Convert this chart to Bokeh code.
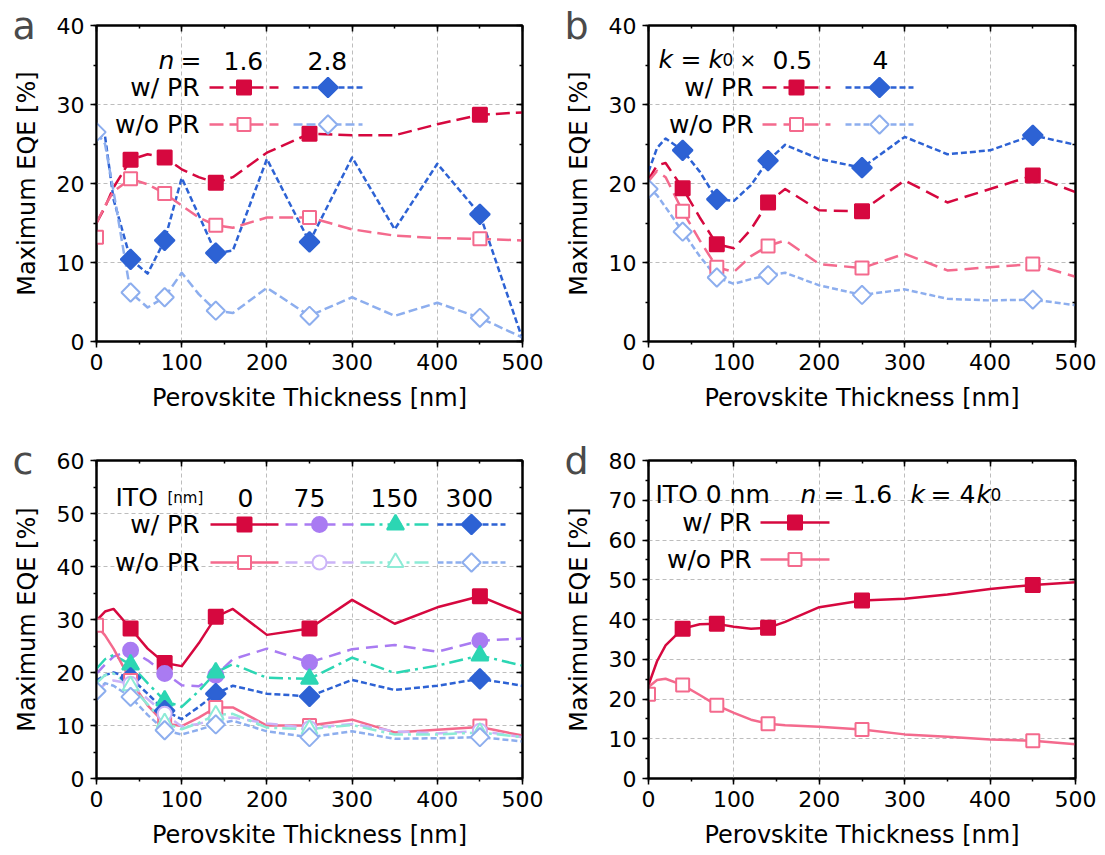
import numpy as np
from bokeh.plotting import figure
from bokeh.models import Range1d, LinearAxis, SingleIntervalTicker, Label, Title
from bokeh.layouts import column, row
from bokeh.embed import file_html
from bokeh.resources import INLINE

# ---------------- data ----------------
THICKNESS = [0, 10, 20, 40, 60, 80, 100, 120, 140, 160, 200, 250, 300, 350, 400, 450, 500]
MARK_X_W = [40, 80, 140, 250, 450]
MARK_X_WO = [0, 40, 80, 140, 250, 450]

# panel a : n = 1.6 / 2.8
A_N16_W = [15.0, 17.0, 19.5, 23.0, 23.7, 23.3, 21.8, 20.8, 20.1, 20.8, 23.9, 26.3, 26.1, 26.1, 27.5, 28.7, 29.0]
A_N16_W_MK = [23.0, 23.3, 20.1, 26.3, 28.7]
A_N16_WO = [15.0, 17.2, 19.0, 20.6, 19.9, 18.75, 17.2, 15.7, 14.7, 14.4, 15.7, 15.7, 14.2, 13.4, 13.1, 13.0, 12.8]
A_N16_WO_MK = [13.2, 20.6, 18.75, 14.7, 15.7, 13.0]
A_N28_W = [26.0, 26.0, 18.0, 10.4, 8.6, 12.8, 20.7, 16.0, 11.2, 11.5, 23.1, 12.6, 23.3, 14.2, 22.5, 16.1, 0.3]
A_N28_W_MK = [10.4, 12.8, 11.2, 12.6, 16.1]
A_N28_WO = [26.5, 25.0, 19.0, 6.2, 4.3, 5.6, 8.7, 6.0, 3.9, 3.6, 6.8, 3.25, 5.6, 3.25, 4.9, 3.0, 0.5]
A_N28_WO_MK = [26.5, 6.2, 5.6, 3.9, 3.25, 3.0]

# panel b : k = k0 x 0.5 / 4
B_K05_W = [20.5, 22.3, 22.6, 19.4, 15.7, 12.3, 11.8, 14.2, 17.6, 19.3, 16.6, 16.5, 20.4, 17.6, 19.3, 21.0, 18.9]
B_K05_W_MK = [19.4, 12.3, 17.6, 16.5, 21.0]
B_K4_W = [21.5, 24.5, 25.7, 24.2, 21.5, 18.0, 17.8, 19.8, 22.9, 24.9, 23.1, 22.0, 25.9, 23.7, 24.2, 26.1, 24.9]
B_K4_W_MK = [24.2, 18.0, 22.9, 22.0, 26.1]
B_K05_WO = [20.3, 21.6, 20.8, 16.5, 12.8, 9.4, 8.8, 10.8, 12.1, 12.8, 9.8, 9.3, 11.1, 9.0, 9.4, 9.8, 8.2]
B_K05_WO_MK = [16.5, 9.4, 12.1, 9.3, 9.8]
B_K4_WO = [19.6, 18.5, 17.0, 13.9, 10.8, 8.1, 7.3, 7.9, 8.4, 8.7, 7.1, 5.9, 6.6, 5.4, 5.2, 5.3, 4.6]
B_K4_WO_MK = [19.3, 13.9, 8.1, 8.4, 5.9, 5.3]

# panel c : ITO 0 / 75 / 150 / 300 nm
C_0_W = [29.8, 31.5, 32.0, 28.3, 24.5, 21.8, 21.2, 25.5, 30.5, 32.0, 27.1, 28.3, 33.7, 29.2, 32.3, 34.4, 31.1]
C_0_W_MK = [28.3, 21.8, 30.5, 28.3, 34.4]
C_75_W = [19.8, 21.5, 23.0, 24.2, 22.3, 19.9, 17.6, 17.4, 19.5, 22.5, 24.5, 21.9, 24.4, 25.2, 23.9, 26.0, 26.4]
C_75_W_MK = [24.2, 19.8, 19.5, 21.9, 26.0]
C_150_W = [20.7, 22.5, 23.3, 21.5, 18.0, 14.7, 13.5, 16.5, 20.0, 21.6, 19.0, 18.8, 22.8, 19.9, 21.3, 23.2, 21.3]
C_150_W_MK = [21.5, 14.7, 20.0, 18.8, 23.2]
C_300_W = [18.5, 19.5, 20.0, 19.0, 16.0, 12.8, 11.2, 13.5, 16.0, 17.5, 16.0, 15.5, 18.6, 16.7, 17.5, 18.8, 17.5]
C_300_W_MK = [19.0, 12.8, 16.0, 15.5, 18.8]
C_0_WO = [28.9, 27.0, 24.5, 18.5, 13.8, 10.4, 9.9, 11.5, 13.4, 13.4, 10.0, 10.0, 11.1, 8.7, 9.2, 9.7, 8.1]
C_0_WO_MK = [28.9, 18.5, 10.4, 13.4, 10.0, 9.9]
C_75_WO = [16.5, 17.8, 18.5, 17.9, 15.0, 12.2, 9.8, 10.3, 11.3, 11.5, 10.4, 9.5, 10.3, 8.9, 8.5, 9.0, 7.8]
C_75_WO_MK = [17.9, 12.2, 11.3, 9.5, 9.0]
C_150_WO = [18.0, 19.5, 19.8, 17.5, 14.0, 10.5, 9.3, 10.5, 12.0, 12.2, 9.6, 9.3, 10.1, 8.3, 8.3, 8.7, 7.8]
C_150_WO_MK = [17.5, 10.5, 12.0, 9.3, 8.7]
C_300_WO = [16.5, 18.0, 17.5, 15.4, 12.0, 9.1, 8.3, 9.2, 10.2, 10.9, 8.9, 7.8, 8.9, 7.5, 7.6, 7.8, 7.0]
C_300_WO_MK = [16.5, 15.4, 9.1, 10.2, 7.8, 7.8]

# panel d : ITO 0 nm, n = 1.6, k = 4 k0
D_W = [23.5, 29.5, 33.5, 37.7, 38.8, 38.9, 38.2, 37.7, 37.9, 39.4, 43.1, 44.8, 45.2, 46.3, 47.7, 48.7, 49.4]
D_W_MK = [37.7, 38.9, 37.9, 44.8, 48.7]
D_WO = [23.0, 24.8, 25.1, 23.5, 21.0, 18.4, 16.5, 14.8, 13.8, 13.4, 13.0, 12.3, 11.1, 10.5, 9.8, 9.5, 8.6]
D_WO_MK = [21.2, 23.5, 18.4, 13.8, 12.3, 9.5]

X_TICK_STEP = 100
Y_TICK_STEP = 10

# ---------------- style ----------------
FONT = "DejaVu Sans"
RED = "#D6083F"
PINK = "#F46A8D"
BLUE = "#2D62D4"
LBLUE = "#8DAEEE"
PURPLE = "#A97BF2"
LPURPLE = "#CBB4F8"
TEAL = "#2CD6B3"
LTEAL = "#8DEBD6"

GEOM = {"a": (96, 25, 426, 316, 40), "b": (648, 25, 427, 316, 40),
        "c": (96, 460, 426, 318, 60), "d": (648, 460, 427, 318, 80)}


def px2d(key, px, py):
    l, t, w, h, ymax = GEOM[key]
    return (px - l) / w * 500.0, (t + h - py) / h * ymax


def make_fig(key, w, h, lb, rb, tb, bb, letter):
    ymax = GEOM[key][4]
    p = figure(width=w, height=h, x_range=Range1d(0, 500), y_range=Range1d(0, ymax),
               output_backend="svg", toolbar_location=None,
               min_border_left=lb, min_border_right=rb, min_border_top=tb, min_border_bottom=bb)
    p.background_fill_color = "white"
    p.border_fill_color = "white"
    p.outline_line_color = "black"
    p.outline_line_width = 2
    top_ax = LinearAxis()
    right_ax = LinearAxis()
    p.add_layout(top_ax, "above")
    p.add_layout(right_ax, "right")
    bottom_ax = p.below[0]
    left_ax = p.left[0]
    # panel letter as a title, pulled left of the frame
    p.add_layout(Title(text=letter, align="left", offset=-84, standoff=-46,
                       vertical_align="middle", text_font=FONT, text_font_size="38px",
                       text_font_style="normal", text_color="#4a4a4a"), "above")
    for ax in (bottom_ax, top_ax):
        ax.ticker = SingleIntervalTicker(interval=X_TICK_STEP, num_minor_ticks=2)
    for ax in (left_ax, right_ax):
        ax.ticker = SingleIntervalTicker(interval=Y_TICK_STEP, num_minor_ticks=2)
    for ax in (bottom_ax, top_ax, left_ax, right_ax):
        ax.axis_line_color = "black"
        ax.axis_line_width = 2
        ax.major_tick_line_color = "black"
        ax.minor_tick_line_color = "black"
        ax.major_tick_line_width = 1.5
        ax.minor_tick_line_width = 1.5
        ax.major_label_text_font = FONT
        ax.major_label_text_font_size = "22px"
        ax.major_label_text_color = "black"
        ax.axis_label_text_font = FONT
        ax.axis_label_text_font_size = "24px"
        ax.axis_label_text_font_style = "normal"
        ax.axis_label_text_color = "black"
    for ax in (bottom_ax, left_ax):
        ax.major_tick_out = 6
        ax.major_tick_in = 0
        ax.minor_tick_out = 3
        ax.minor_tick_in = 0
        ax.major_label_standoff = 6
    for ax in (top_ax, right_ax):
        ax.major_tick_out = 0
        ax.major_tick_in = 6
        ax.minor_tick_out = 0
        ax.minor_tick_in = 3
        ax.major_label_text_font_size = "1px"
        ax.major_label_text_color = None
        ax.major_label_standoff = 0
    bottom_ax.axis_label = "Perovskite Thickness [nm]"
    bottom_ax.axis_label_standoff = 11
    left_ax.axis_label = "Maximum EQE [%]"
    left_ax.axis_label_standoff = 13
    for g in (p.xgrid, p.ygrid):
        g.grid_line_color = "#bdbdbd"
        g.grid_line_dash = "4 3"
        g.grid_line_width = 1
    return p


def draw_lines(p, series):
    for (ys, color, dash, mx, my, marker, filled, size, angle) in series:
        p.line(THICKNESS, ys, line_color=color, line_width=2.5, line_dash=dash, line_join="round")


def draw_marks(p, series):
    for (ys, color, dash, mx, my, marker, filled, size, angle) in series:
        p.scatter(mx, my, marker=marker, size=size, angle=angle,
                  fill_color=color if filled else "white", line_color=color, line_width=2)


def text(p, key, px, py, s, size=25, style="normal", align="left", baseline="alphabetic", color="black"):
    x, y = px2d(key, px, py)
    p.add_layout(Label(x=x, y=y, text=s, text_font=FONT, text_font_size=f"{size}px",
                       text_font_style=style, text_align=align, text_baseline=baseline,
                       text_color=color))


def sample(p, key, x1, x2, py, spec):
    ys, color, dash, mx, my, marker, filled, size, angle = spec
    d1x, dy = px2d(key, x1, py)
    d2x, _ = px2d(key, x2, py)
    p.line([d1x, d2x], [dy, dy], line_color=color, line_width=2.5, line_dash=dash)
    p.scatter([(d1x + d2x) / 2], [dy], marker=marker, size=size, angle=angle,
              fill_color=color if filled else "white", line_color=color, line_width=2)


Q = np.pi / 4
ROW = 25

# ---------------- panel a ----------------
pa = make_fig("a", 560, 420, 96, 38, 25, 79, "a")
sa_w = [(A_N16_W, RED, "14 6", MARK_X_W, A_N16_W_MK, "square", True, 14, 0),
        (A_N28_W, BLUE, "6 3", MARK_X_W, A_N28_W_MK, "square", True, 14, Q)]
sa_wo = [(A_N16_WO, PINK, "14 6", MARK_X_WO, A_N16_WO_MK, "square", False, 13, 0),
         (A_N28_WO, LBLUE, "9 4", MARK_X_WO, A_N28_WO_MK, "square", False, 13, Q)]
draw_lines(pa, sa_w + sa_wo)
draw_marks(pa, sa_w + sa_wo)
text(pa, "a", 158, 60, "n", style="italic")
text(pa, "a", 180, 60, "=")
text(pa, "a", 223, 60, "1.6")
text(pa, "a", 307, 60, "2.8")
text(pa, "a", 199, 87, "w/ PR", size=ROW, align="right", baseline="middle")
text(pa, "a", 199, 124, "w/o PR", size=ROW, align="right", baseline="middle")
sample(pa, "a", 209, 278, 87, sa_w[0])
sample(pa, "a", 293, 362, 87, sa_w[1])
sample(pa, "a", 209, 278, 124, sa_wo[0])
sample(pa, "a", 293, 362, 124, sa_wo[1])

# ---------------- panel b ----------------
pb = make_fig("b", 545, 420, 88, 30, 25, 79, "b")
sb_w = [(B_K05_W, RED, "14 7", MARK_X_W, B_K05_W_MK, "square", True, 14, 0),
        (B_K4_W, BLUE, "6 3", MARK_X_W, B_K4_W_MK, "square", True, 14, Q)]
sb_wo = [(B_K05_WO, PINK, "14 7", MARK_X_W, B_K05_WO_MK, "square", False, 13, 0),
         (B_K4_WO, LBLUE, "6 3", MARK_X_WO, B_K4_WO_MK, "square", False, 13, Q)]
draw_lines(pb, sb_w + sb_wo)
draw_marks(pb, sb_w + sb_wo)
text(pb, "b", 658, 59, "k", style="italic")
text(pb, "b", 680, 59, "=")
text(pb, "b", 708, 59, "k", style="italic")
text(pb, "b", 722, 59, "0", size=17)
text(pb, "b", 739, 59, "×", size=20)
text(pb, "b", 772, 59, "0.5")
text(pb, "b", 872, 59, "4")
text(pb, "b", 753, 87, "w/ PR", size=ROW, align="right", baseline="middle")
text(pb, "b", 753, 124, "w/o PR", size=ROW, align="right", baseline="middle")
sample(pb, "b", 762, 830, 87, sb_w[0])
sample(pb, "b", 845, 913, 87, sb_w[1])
sample(pb, "b", 762, 830, 124, sb_wo[0])
sample(pb, "b", 845, 913, 124, sb_wo[1])

# ---------------- panel c ----------------
pc = make_fig("c", 560, 435, 96, 38, 40, 77, "c")
sc_w = [(C_0_W, RED, "solid", MARK_X_W, C_0_W_MK, "square", True, 14, 0),
        (C_75_W, PURPLE, "12 7", MARK_X_W, C_75_W_MK, "circle", True, 15, 0),
        (C_150_W, TEAL, "14 5 3 5", MARK_X_W, C_150_W_MK, "triangle", True, 17, 0),
        (C_300_W, BLUE, "6 3", MARK_X_W, C_300_W_MK, "square", True, 14, Q)]
sc_wo = [(C_0_WO, PINK, "solid", MARK_X_WO, C_0_WO_MK, "square", False, 13, 0),
         (C_75_WO, LPURPLE, "12 7", MARK_X_W, C_75_WO_MK, "circle", False, 14, 0),
         (C_150_WO, LTEAL, "14 5 3 5", MARK_X_W, C_150_WO_MK, "triangle", False, 16, 0),
         (C_300_WO, LBLUE, "6 3", MARK_X_WO, C_300_WO_MK, "square", False, 13, Q)]
draw_lines(pc, sc_w + sc_wo)
draw_marks(pc, sc_w + sc_wo)
text(pc, "c", 115, 497, "ITO")
text(pc, "c", 167, 497, "[nm]", size=15)
text(pc, "c", 237, 497, "0")
text(pc, "c", 293, 497, "75")
text(pc, "c", 370, 497, "150")
text(pc, "c", 445, 497, "300")
text(pc, "c", 199, 524, "w/ PR", size=ROW, align="right", baseline="middle")
text(pc, "c", 199, 562, "w/o PR", size=ROW, align="right", baseline="middle")
for i, (x1, x2) in enumerate([(210, 278), (285, 353), (360, 430), (437, 505)]):
    sample(pc, "c", x1, x2, 524, sc_w[i])
    sample(pc, "c", x1, x2, 562, sc_wo[i])

# ---------------- panel d ----------------
pd_ = make_fig("d", 545, 435, 88, 30, 40, 77, "d")
sd = [(D_W, RED, "solid", MARK_X_W, D_W_MK, "square", True, 14, 0),
      (D_WO, PINK, "solid", MARK_X_WO, D_WO_MK, "square", False, 13, 0)]
draw_lines(pd_, sd)
draw_marks(pd_, sd)
text(pd_, "d", 655, 494, "ITO 0 nm")
text(pd_, "d", 800, 494, "n", style="italic")
text(pd_, "d", 823, 494, "= 1.6")
text(pd_, "d", 910, 494, "k", style="italic")
text(pd_, "d", 930, 494, "= 4")
text(pd_, "d", 976, 494, "k", style="italic")
text(pd_, "d", 990, 494, "0", size=17)
text(pd_, "d", 751, 522, "w/ PR", size=ROW, align="right", baseline="middle")
text(pd_, "d", 751, 559, "w/o PR", size=ROW, align="right", baseline="middle")
sample(pd_, "d", 760, 829, 522, sd[0])
sample(pd_, "d", 760, 829, 559, sd[1])

layout = column(row(pa, pb), row(pc, pd_))
open("out.html", "w").write(file_html(layout, INLINE))
